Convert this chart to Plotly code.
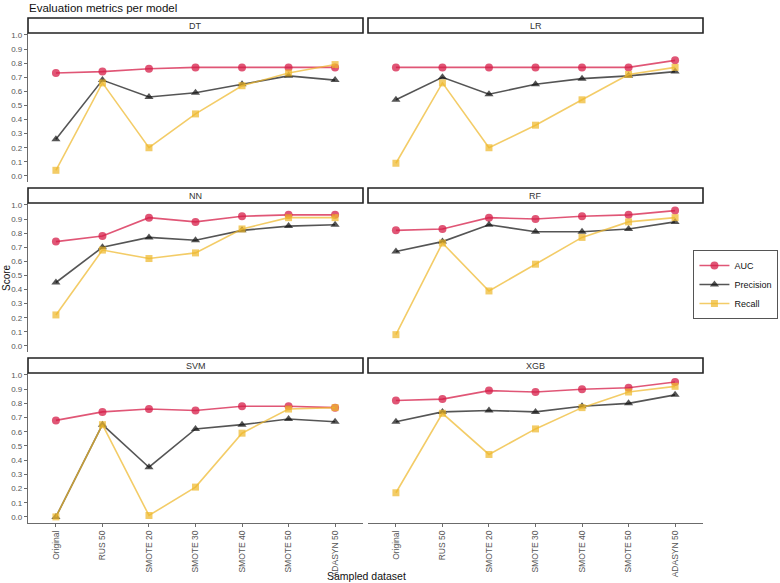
import plotly.graph_objects as go

W, H = 780, 583

datasets = ["Original", "RUS 50", "SMOTE 20", "SMOTE 30", "SMOTE 40", "SMOTE 50", "ADASYN 50"]
models = ["DT", "LR", "NN", "RF", "SVM", "XGB"]
metrics = ["AUC", "Precision", "Recall"]

auc_DT = [0.73, 0.74, 0.76, 0.77, 0.77, 0.77, 0.77]
prec_DT = [0.26, 0.68, 0.56, 0.59, 0.65, 0.71, 0.68]
rec_DT = [0.04, 0.66, 0.20, 0.44, 0.64, 0.73, 0.79]

auc_LR = [0.77, 0.77, 0.77, 0.77, 0.77, 0.77, 0.82]
prec_LR = [0.54, 0.70, 0.58, 0.65, 0.69, 0.71, 0.74]
rec_LR = [0.09, 0.66, 0.20, 0.36, 0.54, 0.72, 0.77]

auc_NN = [0.74, 0.78, 0.91, 0.88, 0.92, 0.93, 0.93]
prec_NN = [0.45, 0.70, 0.77, 0.75, 0.82, 0.85, 0.86]
rec_NN = [0.22, 0.68, 0.62, 0.66, 0.83, 0.91, 0.91]

auc_RF = [0.82, 0.83, 0.91, 0.90, 0.92, 0.93, 0.96]
prec_RF = [0.67, 0.74, 0.86, 0.81, 0.81, 0.83, 0.88]
rec_RF = [0.08, 0.73, 0.39, 0.58, 0.77, 0.88, 0.91]

auc_SVM = [0.68, 0.74, 0.76, 0.75, 0.78, 0.78, 0.77]
prec_SVM = [0.00, 0.65, 0.35, 0.62, 0.65, 0.69, 0.67]
rec_SVM = [0.00, 0.65, 0.01, 0.21, 0.59, 0.76, 0.77]

auc_XGB = [0.82, 0.83, 0.89, 0.88, 0.90, 0.91, 0.95]
prec_XGB = [0.67, 0.74, 0.75, 0.74, 0.78, 0.80, 0.86]
rec_XGB = [0.17, 0.73, 0.44, 0.62, 0.77, 0.88, 0.92]

values = {
    "DT": [auc_DT, prec_DT, rec_DT],
    "LR": [auc_LR, prec_LR, rec_LR],
    "NN": [auc_NN, prec_NN, rec_NN],
    "RF": [auc_RF, prec_RF, rec_RF],
    "SVM": [auc_SVM, prec_SVM, rec_SVM],
    "XGB": [auc_XGB, prec_XGB, rec_XGB],
}

y_ticks = [i / 10 for i in range(11)]
y_ticklabels = [f"{v:.1f}" for v in y_ticks]

colors = ["rgba(214,30,72,0.75)", "rgba(20,20,20,0.72)", "rgba(238,185,45,0.72)"]
symbols = ["circle", "triangle-up", "square"]
sizes = [8, 8, 7]

# panel geometry in pixels
col_x = [(28, 363), (368, 703)]
row_y = [(33, 182), (203, 352), (373, 523)]
strip_h = 15

def fx(px):
    return px / W

def fy(py):
    return 1 - py / H

fig = go.Figure()
shapes = []
annotations = []

for i, m in enumerate(models):
    r, c = divmod(i, 2)
    idx = i + 1
    xa = "x" if idx == 1 else f"x{idx}"
    ya = "y" if idx == 1 else f"y{idx}"
    for k, met in enumerate(metrics):
        fig.add_trace(go.Scatter(
            x=datasets, y=values[m][k], xaxis=xa, yaxis=ya,
            mode="lines+markers", name=met, legendgroup=met,
            showlegend=(i == 0),
            line=dict(color=colors[k], width=1.6),
            marker=dict(color=colors[k], symbol=symbols[k], size=sizes[k], line=dict(width=0)),
        ))
    x0, x1 = col_x[c]
    y0, y1 = row_y[r]
    bottom = (r == 2)
    left = (c == 0)
    xkey = "xaxis" if idx == 1 else f"xaxis{idx}"
    ykey = "yaxis" if idx == 1 else f"yaxis{idx}"
    fig.layout[xkey] = dict(
        domain=[fx(x0), fx(x1)], anchor=ya, type="category",
        categoryorder="array", categoryarray=datasets,
        range=[-0.6, 6.6], showgrid=False, zeroline=False, automargin=False,
        showline=bottom, linecolor="#6b6b6b", linewidth=1.3,
        ticks="outside" if bottom else "", ticklen=3, tickcolor="#6b6b6b",
        showticklabels=bottom, tickangle=-90,
        tickfont=dict(family="Liberation Sans, Arial", size=8.5, color="#555555"),
    )
    fig.layout[ykey] = dict(
        domain=[fy(y1), fy(y0)], anchor=xa, automargin=False,
        range=[-0.043, 1.014], showgrid=False, zeroline=False,
        showline=left, linecolor="#6b6b6b", linewidth=1.3,
        tickmode="array", tickvals=y_ticks, ticktext=y_ticklabels,
        ticks="outside" if left else "", ticklen=3, tickcolor="#6b6b6b",
        showticklabels=left,
        tickfont=dict(family="Liberation Sans, Arial", size=8, color="#555555"),
    )
    # strip
    shapes.append(dict(type="rect", xref="paper", yref="paper",
                       x0=fx(x0), x1=fx(x1), y0=fy(y0), y1=fy(y0 - strip_h),
                       line=dict(color="#222222", width=1.6), fillcolor="white", layer="above"))
    annotations.append(dict(text=m, xref="paper", yref="paper",
                            x=fx((x0 + x1) / 2), y=fy(y0 - strip_h / 2),
                            showarrow=False, xanchor="center", yanchor="middle",
                            font=dict(family="Liberation Sans, Arial", size=9, color="#333333")))

annotations.append(dict(text="Evaluation metrics per model", xref="paper", yref="paper",
                        x=fx(27), y=fy(8), showarrow=False, xanchor="left", yanchor="middle",
                        font=dict(family="Liberation Sans, Arial", size=11.5, color="#111111")))
annotations.append(dict(text="Score", xref="paper", yref="paper",
                        x=fx(6), y=fy(278), showarrow=False, textangle=-90,
                        xanchor="center", yanchor="middle",
                        font=dict(family="Liberation Sans, Arial", size=10, color="#111111")))
annotations.append(dict(text="Sampled dataset", xref="paper", yref="paper",
                        x=fx(366), y=fy(576), showarrow=False,
                        xanchor="center", yanchor="middle",
                        font=dict(family="Liberation Sans, Arial", size=10.5, color="#111111")))

fig.update_layout(
    width=W, height=H, margin=dict(l=0, r=0, t=0, b=0, autoexpand=False),
    paper_bgcolor="white", plot_bgcolor="white",
    shapes=shapes, annotations=annotations,
    legend=dict(x=0.998, y=fy(250), xanchor="right", yanchor="top",
                bordercolor="#555555", borderwidth=1, bgcolor="white",
                font=dict(family="Liberation Sans, Arial", size=9, color="#111111"),
                itemwidth=30, tracegroupgap=0),
)

fig.write_html("out.html", config={"displayModeBar": False},
               post_script="document.body.style.margin='0';document.body.style.overflow='hidden';")
